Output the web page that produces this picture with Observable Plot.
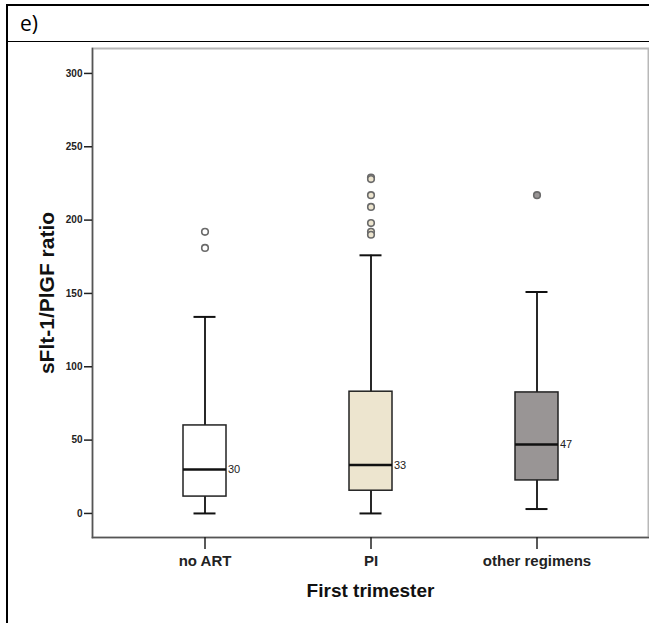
<!DOCTYPE html>
<html>
<head>
<meta charset="utf-8">
<script src="https://cdn.jsdelivr.net/npm/d3@7"></script>
<script src="https://cdn.jsdelivr.net/npm/@observablehq/plot@0.6"></script>
<style>
  html, body { margin: 0; padding: 0; background: #fff; }
  #page { position: relative; width: 649px; height: 623px; overflow: hidden; background: #fff; }
  #topline { position: absolute; left: 6px; top: 4px; width: 643px; height: 2px; background: #000; }
  #midline { position: absolute; left: 6px; top: 41px; width: 643px; height: 2px; background: #000; }
  #leftline { position: absolute; left: 6px; top: 4px; width: 2px; height: 619px; background: #000; z-index: 3; }
  #label { position: absolute; left: 20px; top: 9px; font-family: "Open Sans", "Liberation Sans", sans-serif; font-size: 21px; color: #000; }
  #chart { position: absolute; left: 0; top: 42px; }
</style>
</head>
<body>
<div id="page">
  <div id="topline"></div>
  <div id="midline"></div>
  <div id="leftline"></div>
  <div id="label">e)</div>
  <div id="chart"></div>
</div>
<script>
const groups = ["no ART", "PI", "other regimens"];
const q1 = [11.5, 15.5, 22.5];
const median = [30, 33, 47];
const q3 = [60, 83, 82.5];
const whiskerLow = [0, 0, 3];
const whiskerHigh = [134, 176, 151];
const medianLabels = ["30", "33", "47"];
const outlierGroup = ["no ART", "no ART", "PI", "PI", "PI", "PI", "PI", "PI", "PI", "other regimens"];
const outlierValue = [192, 181, 229, 228, 217, 209, 198, 192, 190, 217];
const yTicks = [0, 50, 100, 150, 200, 250, 300];

const boxes = groups.map((g, i) => ({
  g, q1: q1[i], median: median[i], q3: q3[i], lo: whiskerLow[i], hi: whiskerHigh[i], label: medianLabels[i]
}));
const outliers = outlierGroup.map((g, i) => ({g, v: outlierValue[i]}));

const chart = Plot.plot({
  width: 649,
  height: 581,
  marginLeft: 92,
  marginRight: 1,
  marginTop: 6,
  marginBottom: 86,
  x: {domain: groups, paddingInner: 0.742, paddingOuter: 0.542, label: null},
  y: {domain: [-16.4, 317], label: null},
  color: {domain: groups, range: ["#ffffff", "#ede5cf", "#999595"]},
  style: {fontFamily: "'Liberation Sans', Arial, sans-serif", background: "white", overflow: "visible", color: "#222"},
  marks: [
    Plot.frame({stroke: "#b8b8b8", strokeWidth: 2}),
    Plot.frame({anchor: "left", stroke: "#555", strokeWidth: 1.5}),
    Plot.frame({anchor: "bottom", stroke: "#555", strokeWidth: 1.5}),
    Plot.axisY({ticks: yTicks, tickSize: 8, tickPadding: 2, fontSize: 10, fontWeight: "bold", label: null, strokeWidth: 1.5}),
    Plot.axisX({tickSize: 12, tickPadding: 6, fontSize: 15, fontWeight: "bold", label: null, strokeWidth: 1.5}),
    Plot.text(["sFlt-1/PlGF ratio"], {frameAnchor: "left", textAnchor: "middle", rotate: -90, dx: -45, fontSize: 21, fontWeight: "bold", fill: "#111", style: "letter-spacing:2.2px"}),
    Plot.text(["First trimester"], {frameAnchor: "bottom", dy: 59, fontSize: 19, fontWeight: "bold", fill: "#111"}),
    Plot.ruleX(boxes, {x: "g", y1: "lo", y2: "hi", stroke: "#111", strokeWidth: 1.8}),
    Plot.tickY(boxes, {x: "g", y: "lo", stroke: "#111", strokeWidth: 2, insetLeft: 10.5, insetRight: 10.5}),
    Plot.tickY(boxes, {x: "g", y: "hi", stroke: "#111", strokeWidth: 2, insetLeft: 10.5, insetRight: 10.5}),
    Plot.barY(boxes, {x: "g", y1: "q1", y2: "q3", fill: "g", stroke: "#222", strokeWidth: 1.5}),
    Plot.tickY(boxes, {x: "g", y: "median", stroke: "#111", strokeWidth: 2.5}),
    Plot.text(boxes, {x: "g", y: "median", text: "label", dx: 23, textAnchor: "start", fontSize: 11, fill: "#222"}),
    Plot.dot(outliers, {x: "g", y: "v", r: 3.3, fill: "g", stroke: "#6a6a6a", strokeWidth: 1.6})
  ]
});
document.getElementById("chart").appendChild(chart);
</script>
</body>
</html>
